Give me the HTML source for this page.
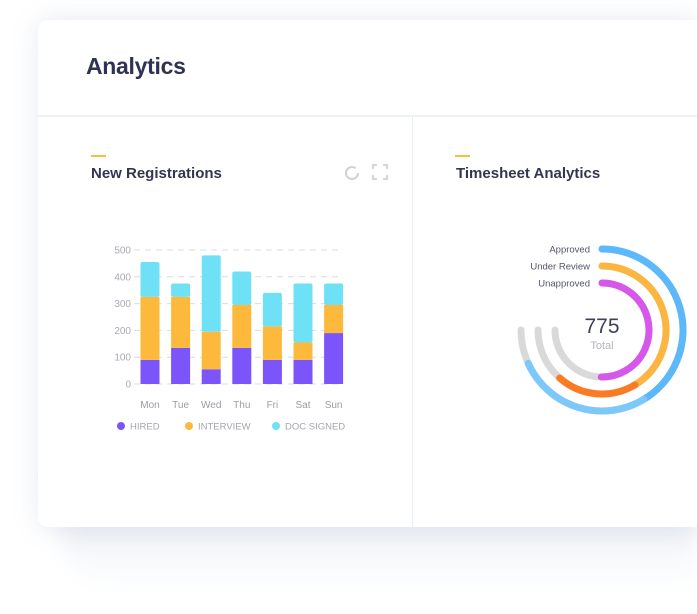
<!DOCTYPE html>
<html><head><meta charset="utf-8"><style>
body{margin:0;width:697px;height:614px;overflow:hidden;background:#fff;font-family:"Liberation Sans",sans-serif;position:relative}
.shadow{position:absolute;left:60px;top:480px;width:637px;height:110px;background:linear-gradient(#dfe4ef,rgba(240,243,248,0.5) 70%,rgba(255,255,255,0));border-radius:0 0 0 60px;filter:blur(10px)}
.card{position:absolute;left:38px;top:20px;width:659px;height:507px;background:#fff;border-radius:10px 0 0 10px;box-shadow:0 0 25px rgba(200,208,225,0.45)}
.h1{position:absolute;left:86px;top:53px;font-size:23px;font-weight:bold;color:#2f3252;letter-spacing:-0.3px}
.hr{position:absolute;left:38px;top:115px;width:659px;height:2px;background:#eef2f7}
.vr{position:absolute;left:412px;top:117px;width:1px;height:410px;background:#e9eef5}
.dash{position:absolute;width:15px;height:2px;background:#fbbd3b}
.t{position:absolute;font-size:15px;font-weight:bold;color:#33364f}
</style></head><body>
<div class="shadow"></div>
<div class="card"></div>
<div class="h1">Analytics</div>
<div class="hr"></div>
<div class="vr"></div>
<div class="dash" style="left:91px;top:155px"></div>
<div class="dash" style="left:455px;top:155px"></div>
<div class="t" style="left:91px;top:165px">New Registrations</div>
<div class="t" style="left:456px;top:165px">Timesheet Analytics</div>
<svg style="position:absolute;left:343px;top:164px" width="18" height="18"><circle cx="9" cy="9" r="6" fill="none" stroke="#cfd2d6" stroke-width="2" stroke-dasharray="32 6"/></svg>
<svg style="position:absolute;left:372px;top:164px" width="16" height="16"><path d="M1 5V1H5M11 1H15V5M15 11V15H11M5 15H1V11" fill="none" stroke="#d3d6da" stroke-width="2"/></svg>
<svg id="bar" style="position:absolute;left:0;top:0" width="697" height="614"></svg>
<svg id="rad" style="position:absolute;left:0;top:0" width="697" height="614"></svg>
<script>
const days=["Mon","Tue","Wed","Thu","Fri","Sat","Sun"];
const hired=[90,135,55,135,90,90,190];
const interview=[235,190,140,160,125,65,105];
const docSigned=[130,50,285,125,125,220,80];
const yTicks=[0,100,200,300,400,500];
const radLabels=["Approved","Under Review","Unapproved"];
const radValues=[91,82,67];
const total=775;
const NS="http://www.w3.org/2000/svg";
function mk(p,t,a){const e=document.createElementNS(NS,t);for(const k in a)e.setAttribute(k,a[k]);p.appendChild(e);return e;}
const bar=document.getElementById('bar');
const y=v=>384-v*0.268;
const x=i=>150+i*30.6;
yTicks.forEach(v=>{
 const l=mk(bar,'line',{x1:134,x2:343,y1:y(v),y2:y(v),stroke:'#d9dce1','stroke-dasharray':'6 5'});
 
 
 const t=mk(bar,'text',{x:131,y:y(v)+3.5,'text-anchor':'end','font-size':'10','fill':'#a7aab3'});t.textContent=v;
 
 
});
const series=[[hired,'#7b55f9','hired'],[interview,'#fdb93b','interview'],[docSigned,'#6fe1f7','doc-signed']];
days.forEach((d,i)=>{
 let base=0;
 series.forEach(([arr,c,n],s)=>{
  const v=arr[i];
  const r=mk(bar,'rect',{x:x(i)-9.5,y:y(base+v),width:19,height:v*0.268,fill:c,rx:s===2?2:0});
  
  
  base+=v;
 });
 const t=mk(bar,'text',{x:x(i),y:408,'text-anchor':'middle','font-size':'10','fill':'#9a9da6'});t.textContent=d;
 
 
});
const leg=[["HIRED",'#7b55f9',121],["INTERVIEW",'#fdb93b',189],["DOC SIGNED",'#6fe1f7',276]];
leg.forEach(([n,c,lx])=>{
 const g=mk(bar,'g',{});
 
 
 mk(g,'circle',{cx:lx,cy:426,r:4,fill:c});
 const t=mk(g,'text',{x:lx+9,y:429.5,'font-size':'9.5','fill':'#a3a6ae'});t.textContent=n;
});
const rad=document.getElementById('rad');
const cx=602,cy=330;
const radii=[81,64,47];
const cols=['#5bb8fb','#fdb541','#d657ea'];
const cols2=['#7cc8fb','#fb7a24','#d657ea'];
function pt(r,a){const t=a*Math.PI/180;return [cx+r*Math.sin(t),cy-r*Math.cos(t)];}
function arc(r,a0,a1){const p0=pt(r,a0),p1=pt(r,a1);return `M${p0[0]} ${p0[1]}A${r} ${r} 0 ${a1-a0>180?1:0} 1 ${p1[0]} ${p1[1]}`;}
radii.forEach((r,i)=>{
 const tr=mk(rad,'path',{d:arc(r,0,270),fill:'none',stroke:'#d9d9d9','stroke-width':7,'stroke-linecap':'round'});
 
 
 const end=radValues[i]/100*270;
 const g=mk(rad,'g',{});
 
 
 const mid=Math.min(end,150);
 mk(g,'path',{d:arc(r,0,mid),fill:'none',stroke:cols[i],'stroke-width':7,'stroke-linecap':'round'});
 if(end>mid)mk(g,'path',{d:arc(r,mid-1,end),fill:'none',stroke:cols2[i],'stroke-width':7,'stroke-linecap':'round'});
 const t=mk(rad,'text',{x:590,y:cy-r+3.5,'text-anchor':'end','font-size':'9.5','fill':'#50546a'});t.textContent=radLabels[i];
 
 
});
const tt=mk(rad,'text',{x:cx,y:333,'text-anchor':'middle','font-size':'21','fill':'#3d4156'});tt.textContent=total;


const tl=mk(rad,'text',{x:cx,y:349,'text-anchor':'middle','font-size':'11','fill':'#b3b6bd'});tl.textContent='Total';


</script>
</body></html>
